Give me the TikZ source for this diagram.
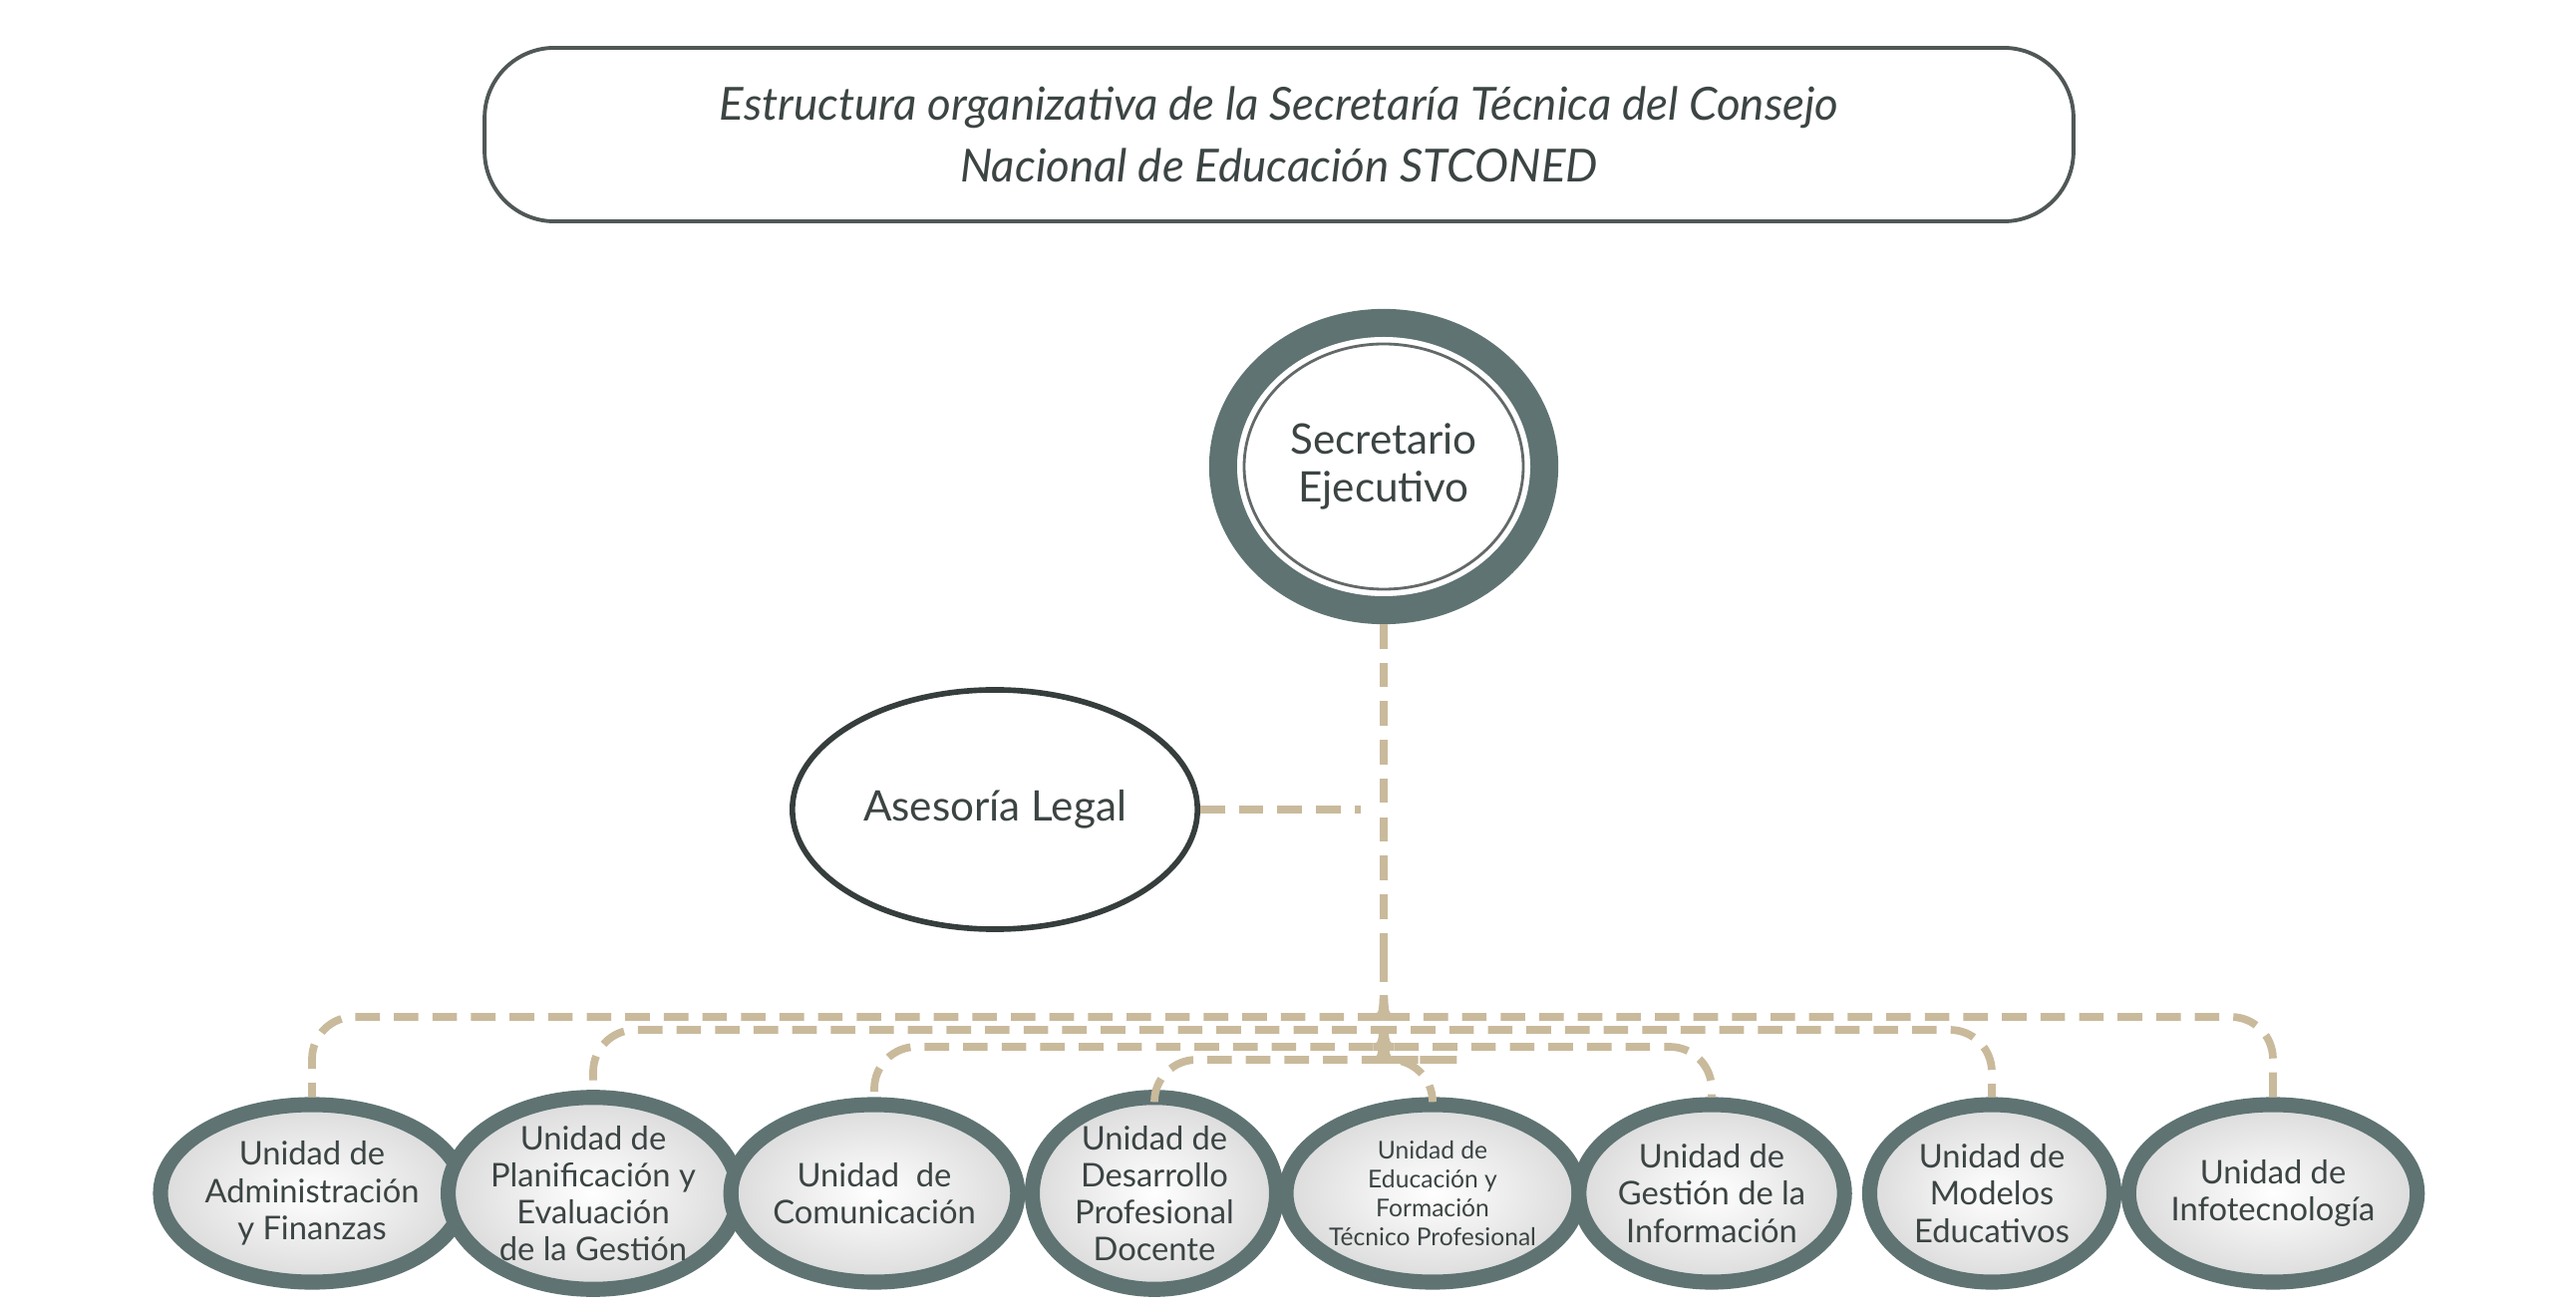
\documentclass[tikz,border=0pt]{standalone}
\usepackage{fontspec}
\setmainfont{Lato}
\usetikzlibrary{shapes.geometric}
\definecolor{ring}{HTML}{5F7373}
\definecolor{ringl}{HTML}{8E9B9B}
\definecolor{txt}{HTML}{3C4444}
\definecolor{conn}{HTML}{C9BA9C}
\tikzset{
 cn/.style={draw=conn,line width=2.2pt,dash pattern=on 7pt off 4pt,rounded corners=12pt},
 unit/.style={ellipse,draw=ring,line width=4.3pt,minimum width=245*0.2845pt,minimum height=178*0.2845pt,inner sep=0pt,align=center,text=txt,font=\fontsize{9.3}{10.6}\selectfont,inner color=white,outer color=black!14},
}
\begin{document}
\begin{tikzpicture}[x=0.01cm,y=-0.01cm]
\useasboundingbox (0,0) rectangle (2584,1316);
\node[draw=txt!90,line width=1.1pt,rounded corners=70*0.2845pt,minimum width=1593*0.2845pt,minimum height=174*0.2845pt,align=center,text=txt,font=\itshape\fontsize{13}{17.5}\selectfont] (title) at (1283,135) {Estructura organizativa de la Secretaría Técnica del Consejo\\Nacional de Educación STCONED};
\node[ellipse,draw=ring,line width=8pt,left color=ringl,right color=ring,minimum width=322*0.2845pt,minimum height=288*0.2845pt,inner sep=0pt] (sec) at (1388,468) {};
\fill[white] (1388,468) ellipse [x radius=147,y radius=130];
\draw[txt!80,line width=0.8pt] (1388,468) ellipse [x radius=140,y radius=123];
\node[align=center,text=txt,font=\fontsize{12}{13.5}\selectfont] at (1388,468) {Secretario\\Ejecutivo};
\node[ellipse,draw=txt!90!black,line width=1.6pt,minimum width=266*0.2845pt,minimum height=240*0.2845pt,text=txt,font=\fontsize{12}{14}\selectfont] (ase) at (998,812) {Asesoría Legal};
\node[unit] (u1) at (313,1197) {Unidad de\\Administración\\y Finanzas};
\node[unit] (u2) at (595,1197) {Unidad de\\Planificación y\\Evaluación\\de la Gestión};
\node[unit] (u3) at (877,1197) {Unidad~ de\\Comunicación};
\node[unit] (u4) at (1158,1197) {Unidad de\\Desarrollo\\Profesional\\Docente};
\node[unit,font=\fontsize{7}{8.2}\selectfont] (u5) at (1437,1197) {Unidad de\\Educación y\\Formación\\Técnico Profesional};
\node[unit] (u6) at (1717,1197) {Unidad de\\Gestión de la\\Información};
\node[unit] (u7) at (1998,1197) {Unidad de\\Modelos\\Educativos};
\node[unit] (u8) at (2280,1197) {Unidad de\\Infotecnología};
\coordinate (hub) at (1388,960);
\draw[cn] (sec.south) -- (hub);
\draw[cn] (ase.east) -- (1365,812);
\foreach \n/\x/\l/\s in {u1/313/1020/1356,u2/595/1033/1356,u3/877/1050/1356,u4/1158/1063/1356,u5/1437/1063/1420,u6/1717/1050/1420,u7/1998/1033/1420,u8/2280/1020/1420}{
 \draw[cn] (hub) .. controls (1388,\l) .. (\s,\l) -- (\x,\l) -- (\n.north);
}
\end{tikzpicture}
\end{document}
